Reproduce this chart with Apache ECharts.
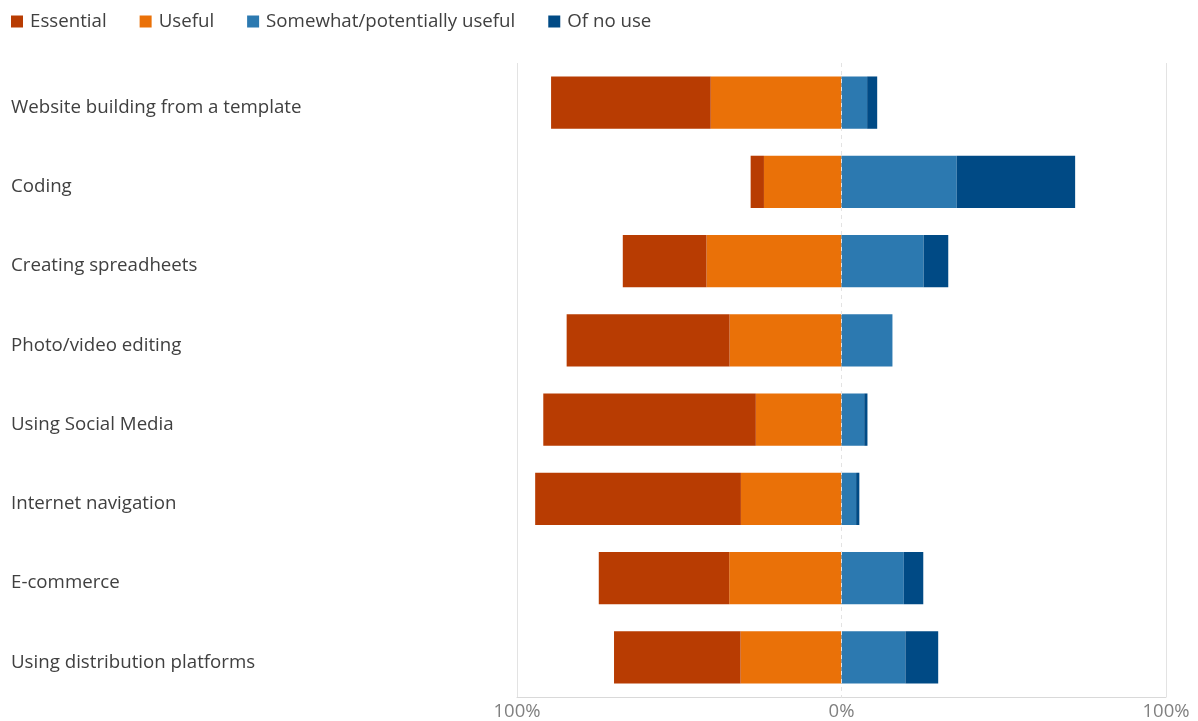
<!DOCTYPE html>
<html>
<head>
<meta charset="utf-8">
<script src="https://cdn.jsdelivr.net/npm/echarts@6/dist/echarts.min.js"></script>
<style>
  html, body { margin: 0; padding: 0; background: #ffffff; }
  #chart { width: 1198px; height: 721px; }
</style>
</head>
<body>
<div id="chart"></div>
<script>
// Skills rated by usefulness (percent of respondents)
const categories = [
  'Website building from a template',
  'Coding',
  'Creating spreadheets',
  'Photo/video editing',
  'Using Social Media',
  'Internet navigation',
  'E-commerce',
  'Using distribution platforms'
];
const essential = [49.2, 4.1, 25.8, 50.2, 65.5, 63.4, 40.2, 39.0];
const useful    = [40.3, 23.9, 41.6, 34.5, 26.4, 31.0, 34.6, 31.1];
const somewhat  = [7.9, 35.5, 25.3, 15.7, 7.0, 4.5, 19.2, 19.7];
const noUse     = [3.1, 36.5, 7.6, 0, 1.0, 1.0, 6.0, 10.1];
const tickValues = [-100, 0, 100];

const FONT = '"Open Sans", "Noto Sans", sans-serif';
const colors = {
  essential: '#b83c02',
  useful: '#ea7108',
  somewhat: '#2c79b0',
  noUse: '#004a85'
};

const neg = arr => arr.map(v => -v);

function barSeries(name, data, color, extra) {
  return Object.assign({
    name: name,
    type: 'bar',
    stack: 'total',
    barWidth: '66%',
    data: data,
    itemStyle: { color: color },
    emphasis: { disabled: true }
  }, extra || {});
}

const chart = echarts.init(document.getElementById('chart'), null, { renderer: 'canvas' });
chart.setOption({
  animation: false,
  textStyle: { fontFamily: FONT },
  legend: {
    left: 6,
    top: 7,
    itemWidth: 12,
    itemHeight: 12,
    itemGap: 33,
    icon: 'rect',
    data: ['Essential', 'Useful', 'Somewhat/potentially useful', 'Of no use'],
    textStyle: { fontFamily: FONT, fontSize: 18.7, color: '#404040', padding: [0, 0, 0, 2] }
  },
  grid: { left: 517, right: 32, top: 63, bottom: 23, containLabel: false },
  xAxis: {
    type: 'value',
    min: tickValues[0],
    max: tickValues[tickValues.length - 1],
    interval: 100,
    axisLine: { show: true, lineStyle: { color: '#d9d9d9' } },
    axisTick: { show: false },
    axisLabel: {
      formatter: v => Math.abs(v) + '%',
      color: '#808080',
      fontSize: 18.5,
      fontFamily: FONT,
      margin: 5
    },
    splitLine: {
      show: true,
      lineStyle: { color: ['#e3e3e3', 'rgba(0,0,0,0)', '#e3e3e3'], width: 1 }
    }
  },
  yAxis: {
    type: 'category',
    data: categories,
    inverse: true,
    axisLine: { show: false },
    axisTick: { show: false },
    axisLabel: {
      align: 'left',
      margin: 506,
      formatter: v => '{c|' + v + '}',
      rich: {
        c: {
          color: '#404040',
          fontSize: 18.7,
          fontFamily: FONT,
          padding: [10, 0, 0, 0]
        }
      }
    }
  },
  series: [
    barSeries('Useful', neg(useful), colors.useful, {
      markLine: {
        silent: true,
        symbol: 'none',
        label: { show: false },
        lineStyle: { color: '#e3e3e3', type: [4, 4], width: 1 },
        data: [{ xAxis: 0 }]
      }
    }),
    barSeries('Essential', neg(essential), colors.essential),
    barSeries('Somewhat/potentially useful', somewhat, colors.somewhat),
    barSeries('Of no use', noUse, colors.noUse)
  ]
});
</script>
</body>
</html>
